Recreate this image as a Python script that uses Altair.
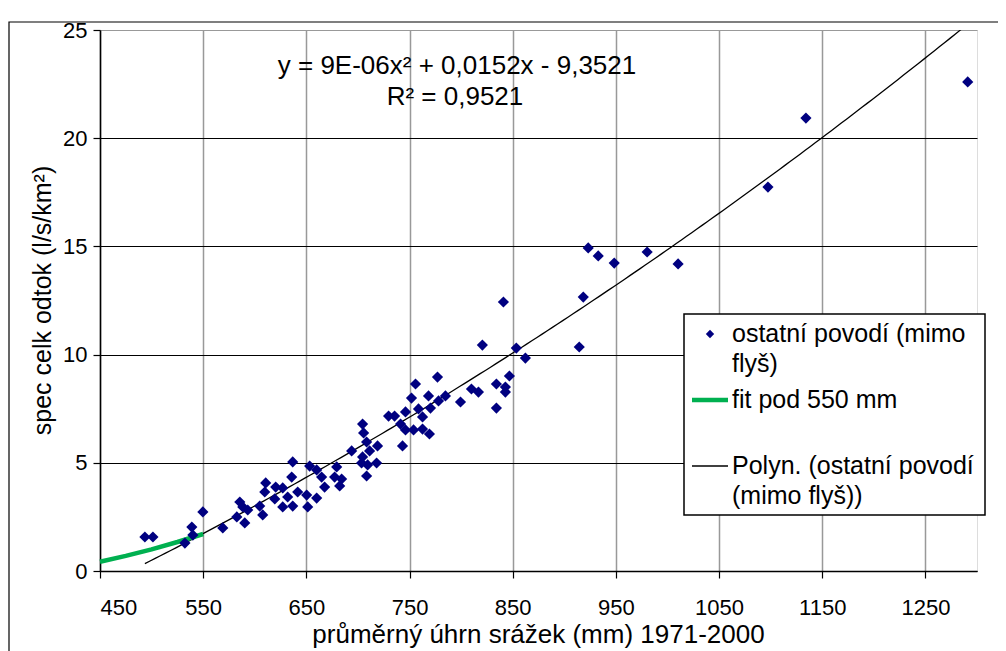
import altair as alt
import pandas as pd

# ---- data ----
precip = [493.5, 501.3, 532.3, 539.0, 540.0, 549.7, 569.0, 582.6, 585.5, 588.4,
          590.3, 593.2, 604.8, 607.7, 609.7, 610.6, 620.3, 619.4, 627.1, 627.1,
          631.9, 635.8, 636.8, 641.6, 636.8, 650.3, 651.3, 653.2, 660.0, 664.8,
          667.7, 660.0, 679.4, 677.4, 684.2, 682.3, 693.9, 704.5, 703.5, 709.4,
          718.1, 708.4, 711.3, 719.0, 708.4, 705.5, 704.5, 743.2, 729.7, 735.5,
          741.3, 746.1, 753.9, 762.6, 769.3, 746.1, 751.9, 755.8, 758.7, 762.6,
          770.3, 778.1, 768.4, 777.1, 784.8, 799.4, 810.0, 816.8, 834.2, 842.9,
          842.9, 834.2, 846.8, 820.6, 841.0, 853.5, 862.3, 914.5, 918.4, 923.2,
          932.9, 948.4, 980.3, 1010.3, 1097.4, 1134.2, 1291.0]
runoff = [1.57, 1.57, 1.29, 2.03, 1.66, 2.73, 1.99, 2.50, 3.19, 2.96,
          2.22, 2.82, 3.00, 2.59, 3.65, 4.07, 3.88, 3.33, 3.84, 2.96,
          3.42, 4.34, 5.04, 3.65, 3.00, 3.51, 2.96, 4.85, 4.67, 4.34,
          3.88, 3.37, 4.81, 4.34, 4.25, 3.93, 5.55, 5.27, 4.99, 4.90,
          4.99, 4.39, 5.55, 5.78, 5.96, 6.38, 6.79, 5.78, 7.16, 7.16,
          6.79, 6.52, 6.52, 6.56, 6.33, 7.35, 7.99, 8.64, 7.49, 7.12,
          7.53, 7.86, 8.09, 8.96, 8.09, 7.81, 8.41, 8.27, 8.64, 8.50,
          8.27, 7.53, 9.01, 10.44, 12.43, 10.30, 9.84, 10.35, 12.66, 14.93,
          14.56, 14.23, 14.74, 14.19, 17.74, 20.93, 22.60]

fit550_x = [450, 475, 500, 525, 550]
fit550_y = [0.43, 0.70, 1.00, 1.34, 1.71]

poly_coef = [9e-06, 0.0152, -9.3521]   # y = a x^2 + b x + c
poly_x = [493.5 + 5 * i for i in range(161)]

x_ticks = [450, 550, 650, 750, 850, 950, 1050, 1150, 1250]
y_ticks = [0, 5, 10, 15, 20, 25]

equation_lines = ["y = 9E-06x² + 0,0152x - 9,3521", "R² = 0,9521"]
legend_labels = ["ostatní povodí (mimo", "flyš)", "fit pod 550 mm",
                 "Polyn. (ostatní povodí", "(mimo flyš))"]

FONT = "Liberation Sans"
NAVY = "#000080"
GREEN = "#00B050"

pts = pd.DataFrame({"x": precip, "y": runoff})
fit = pd.DataFrame({"x": fit550_x, "y": fit550_y})
poly = pd.DataFrame({"x": poly_x})
one = pd.DataFrame({"k": [0]})

xs = alt.Scale(domain=[450, 1300], nice=False, zero=False)
ys = alt.Scale(domain=[0, 25], nice=False, zero=False)

x_axis = alt.Axis(values=x_ticks, format="d", title="průměrný úhrn srážek (mm) 1971-2000",
                  grid=True, gridColor="#999999", gridWidth=1.5,
                  domainColor="black", domainWidth=1.5,
                  tickColor="black", tickSize=7, tickWidth=1.2,
                  labelFont=FONT, labelFontSize=22, labelColor="black",
                  labelBaseline="middle", labelPadding=29,
                  titleFont=FONT, titleFontSize=26, titleFontWeight="normal",
                  titleColor="black", titleX=438, titleY=63, titleBaseline="middle")
y_axis = alt.Axis(values=y_ticks, title="spec celk odtok  (l/s/km²)",
                  grid=True,
                  gridColor={"condition": {"test": "datum.value === 25", "value": "#999999"},
                             "value": "black"},
                  gridWidth=1.2,
                  domainColor="black", domainWidth=1.5,
                  tickColor="black", tickSize=7, tickWidth=1.2,
                  labelFont=FONT, labelFontSize=22, labelColor="black", labelPadding=6,
                  titleFont=FONT, titleFontSize=25, titleFontWeight="normal",
                  titleColor="black", titleX=-58, titleY=270, titleAngle=270,
                  titleAlign="center", titleBaseline="middle")

poly_line = alt.Chart(poly).transform_calculate(
    y=f"{poly_coef[0]}*datum.x*datum.x + {poly_coef[1]}*datum.x + ({poly_coef[2]})"
).mark_line(color="black", strokeWidth=1.3, clip=True).encode(
    x=alt.X("x:Q", scale=xs, axis=x_axis),
    y=alt.Y("y:Q", scale=ys, axis=y_axis),
)

fit_line = alt.Chart(fit).mark_line(color=GREEN, strokeWidth=4.5).encode(
    x=alt.X("x:Q", scale=xs), y=alt.Y("y:Q", scale=ys))

points = alt.Chart(pts).mark_point(shape="diamond", filled=True, color=NAVY,
                                    size=125, opacity=1).encode(
    x=alt.X("x:Q", scale=xs), y=alt.Y("y:Q", scale=ys))

def txt(s, x, y, align="left", size=25):
    return alt.Chart(one).mark_text(text=s, font=FONT, fontSize=size, color="black",
                                    align=align, baseline="middle").encode(
        x=alt.value(x), y=alt.value(y))

eq1 = txt(equation_lines[0], 357, 36, align="center", size=26)
eq2 = txt(equation_lines[1], 355, 67, align="center", size=26)

legend_box = alt.Chart(one).mark_rect(fill="white", stroke="black", strokeWidth=1.5).encode(
    x=alt.value(584), x2=alt.value(885), y=alt.value(284), y2=alt.value(485))
leg_pt = alt.Chart(one).mark_point(shape="diamond", filled=True, color=NAVY,
                                   size=70, opacity=1).encode(
    x=alt.value(610), y=alt.value(304))
leg_green = alt.Chart(one).mark_rule(color=GREEN, strokeWidth=4.5).encode(
    x=alt.value(592), x2=alt.value(628), y=alt.value(370))
leg_black = alt.Chart(one).mark_rule(color="black", strokeWidth=1.3).encode(
    x=alt.value(592), x2=alt.value(628), y=alt.value(436))
leg_t1 = txt(legend_labels[0], 632, 304)
leg_t2 = txt(legend_labels[1], 632, 334)
leg_t3 = txt(legend_labels[2], 632, 370)
leg_t4 = txt(legend_labels[3], 632, 436)
leg_t5 = txt(legend_labels[4], 632, 466)

outer = alt.Chart(one).mark_rect(fill="white", fillOpacity=0, stroke="black",
                                 strokeWidth=1.2).encode(
    x=alt.value(-91), x2=alt.value(920), y=alt.value(-8), y2=alt.value(660))

chart = alt.layer(
    poly_line, fit_line, points, eq1, eq2,
    legend_box, leg_pt, leg_green, leg_black, leg_t1, leg_t2, leg_t3, leg_t4, leg_t5,
    outer,
).properties(
    width=877, height=541,
    autosize=alt.AutoSizeParams(type="none"),
    padding={"left": 92, "top": 22, "right": 21, "bottom": 82},
).configure_view(stroke="#999999", strokeWidth=1.5).configure(background="white")

chart.save("out.html", embed_options={"renderer": "svg", "actions": False})
